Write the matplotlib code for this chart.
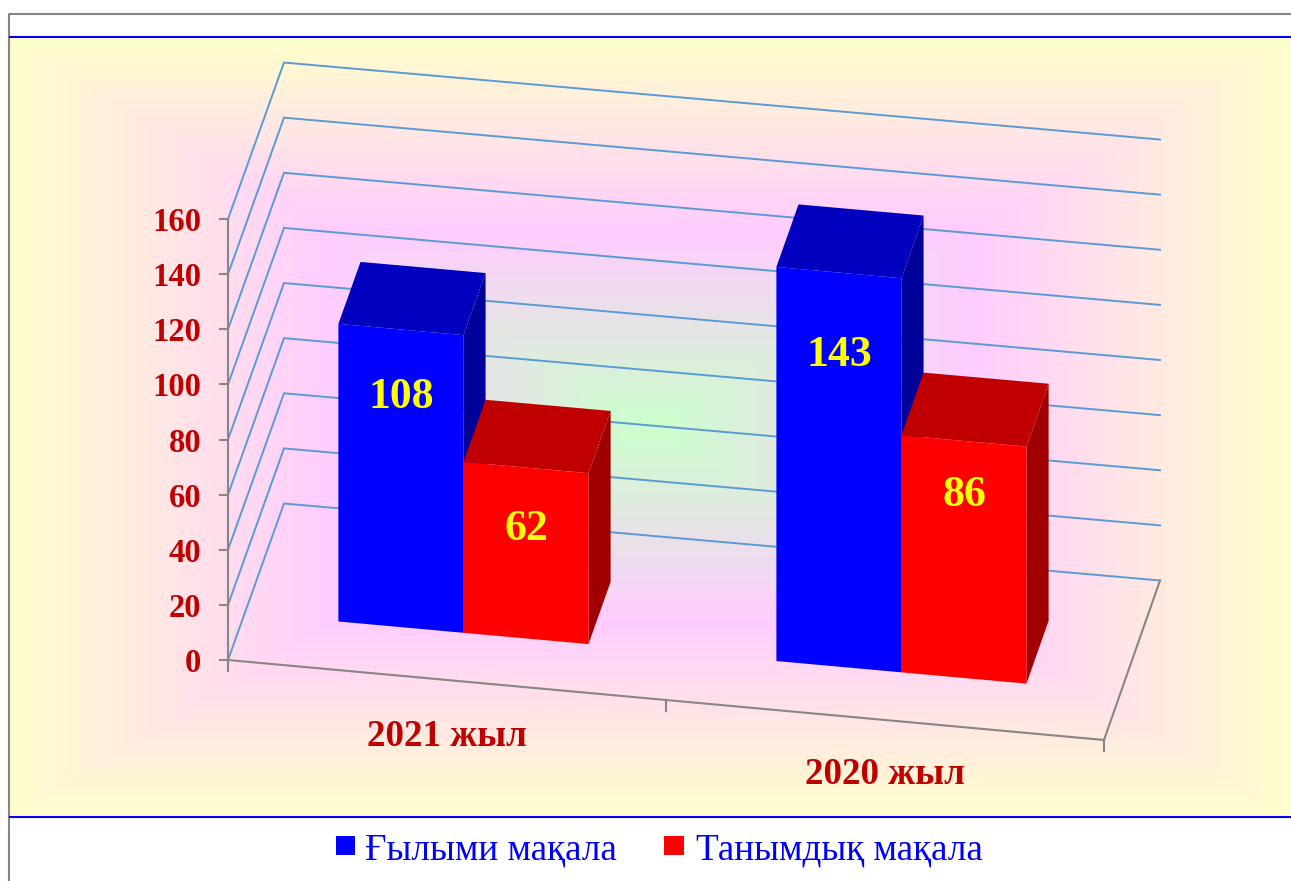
from matplotlib import pyplot as plt
from matplotlib.patches import Polygon, Rectangle
import numpy as np

categories = ['2021 жыл', '2020 жыл']
series_names = ['Ғылыми мақала', 'Танымдық мақала']
nauchnye = [108, 143]
tanymdyk = [62, 86]
y_ticks = [0, 20, 40, 60, 80, 100, 120, 140, 160]

plt.rcParams['font.family'] = ['Liberation Serif', 'DejaVu Serif']

W, H = 1291, 881
DARK_RED = '#C00000'
GRID = '#5B9BD5'
AXIS = '#868686'

# oblique projection: category position, value, depth -> pixels
ORIGIN = np.array([228.0, 660.0])
X_STEP = 438.0
D_VEC = np.array([56.0, -156.5])
PX_PER_UNIT = 2.756


def proj(x, v, d):
    # slope of the x axis flattens a little towards the back
    px = ORIGIN[0] + x * X_STEP + d * D_VEC[0]
    py = ORIGIN[1] + x * (40 - 1.5 * d) + d * D_VEC[1]
    return px, py - v * PX_PER_UNIT


def draw_bar(ax, x, width, value, front, side, top):
    d0, d1 = 0.3, 0.695
    ax.add_patch(Polygon([proj(x + width, 0, d0), proj(x + width, 0, d1),
                          proj(x + width, value, d1), proj(x + width, value, d0)],
                         fc=side, ec='none', zorder=3))
    ax.add_patch(Polygon([proj(x, value, d0), proj(x + width, value, d0),
                          proj(x + width, value, d1), proj(x, value, d1)],
                         fc=top, ec='none', zorder=3))
    ax.add_patch(Polygon([proj(x, 0, d0), proj(x + width, 0, d0),
                          proj(x + width, value, d0), proj(x, value, d0)],
                         fc=front, ec='none', zorder=3))


fig = plt.figure(figsize=(W / 100, H / 100), dpi=100, facecolor='white')
ax = fig.add_axes([0, 0, 1, 1])
ax.set_xlim(0, W)
ax.set_ylim(H, 0)
ax.axis('off')

# background: rectangular path gradient green -> pink -> yellow
left, right, top, bottom = 10, 1291, 38, 816
xx, yy = np.meshgrid(np.linspace(-1, 1, right - left), np.linspace(-1, 1, bottom - top))
t = np.maximum(np.abs(xx), np.abs(yy))
stops = np.array([[0xCC, 0xFF, 0xCC], [0xFF, 0xCC, 0xFF], [0xFF, 0xFF, 0xCC]]) / 255
img = np.dstack([np.interp(t, [0, 0.5, 1], stops[:, i]) for i in range(3)])
ax.imshow(img, extent=(left, right, bottom, top), aspect='auto', zorder=0, interpolation='bilinear')
ax.set_xlim(0, W)
ax.set_ylim(H, 0)

# outer frame and blue rules
ax.plot([9, 9, W], [H, 14, 14], color='#868686', lw=1.5, zorder=1)
ax.plot([10, W], [37, 37], color='#0000FF', lw=1.5, zorder=1)
ax.plot([10, W], [817, 817], color='#0000FF', lw=1.5, zorder=1)

# gridlines on side wall and back wall
for v in y_ticks:
    pts = [proj(0, v, 0), proj(0, v, 1), proj(2, v, 1)]
    ax.plot(*zip(*pts), color=GRID, lw=1.4, zorder=2, solid_joinstyle='miter')

# axes
ax.plot([228, 228], [proj(0, y_ticks[-1], 0)[1], proj(0, 0, 0)[1]], color=AXIS, lw=1.5, zorder=2)
pts = [proj(0, 0, 0), proj(2, 0, 0), proj(2, 0, 1)]
ax.plot(*zip(*pts), color=AXIS, lw=1.5, zorder=2)
for v in y_ticks:
    px, py = proj(0, v, 0)
    ax.plot([px - 8, px], [py, py], color=AXIS, lw=1.5, zorder=2)
    ax.text(px - 27, py, str(v), color=DARK_RED, fontsize=23.5, fontweight='bold',
            ha='right', va='center_baseline')
for i in range(3):
    px, py = proj(i, 0, 0)
    ax.plot([px, px], [py, py + 11], color=AXIS, lw=1.5, zorder=2)

# bars
bar_w = 0.2855
x0 = 0.2137
value_pos = [[(401, 393), (839, 350)], [(526, 524), (964, 491)]]
for i in range(len(categories)):
    draw_bar(ax, i + x0, bar_w, nauchnye[i], '#0000FF', '#00009B', '#0000BE')
    draw_bar(ax, i + x0 + bar_w, bar_w, tanymdyk[i], '#FF0000', '#A00000', '#C00000')
    ax.text(*value_pos[0][i], str(nauchnye[i]), color='#FFFF00', fontsize=31.5, fontweight='bold',
            ha='center', va='center_baseline', zorder=4)
    ax.text(*value_pos[1][i], str(tanymdyk[i]), color='#FFFF00', fontsize=31.5, fontweight='bold',
            ha='center', va='center_baseline', zorder=4)

# category labels
ax.text(447, 733, categories[0], color=DARK_RED, fontsize=26.7, fontweight='bold', ha='center', va='center_baseline')
ax.text(885, 771, categories[1], color=DARK_RED, fontsize=26.7, fontweight='bold', ha='center', va='center_baseline')

# legend
ax.add_patch(Rectangle((336, 836), 19, 19, fc='#0000FF', ec='none'))
ax.text(365, 846, series_names[0], color='#0000FF', fontsize=26.7, ha='left', va='center_baseline')
ax.add_patch(Rectangle((664, 836), 20, 19, fc='#FF0000', ec='none'))
ax.text(696, 846, series_names[1], color='#0000FF', fontsize=26.7, ha='left', va='center_baseline')

fig.savefig('out.png', dpi=100)
